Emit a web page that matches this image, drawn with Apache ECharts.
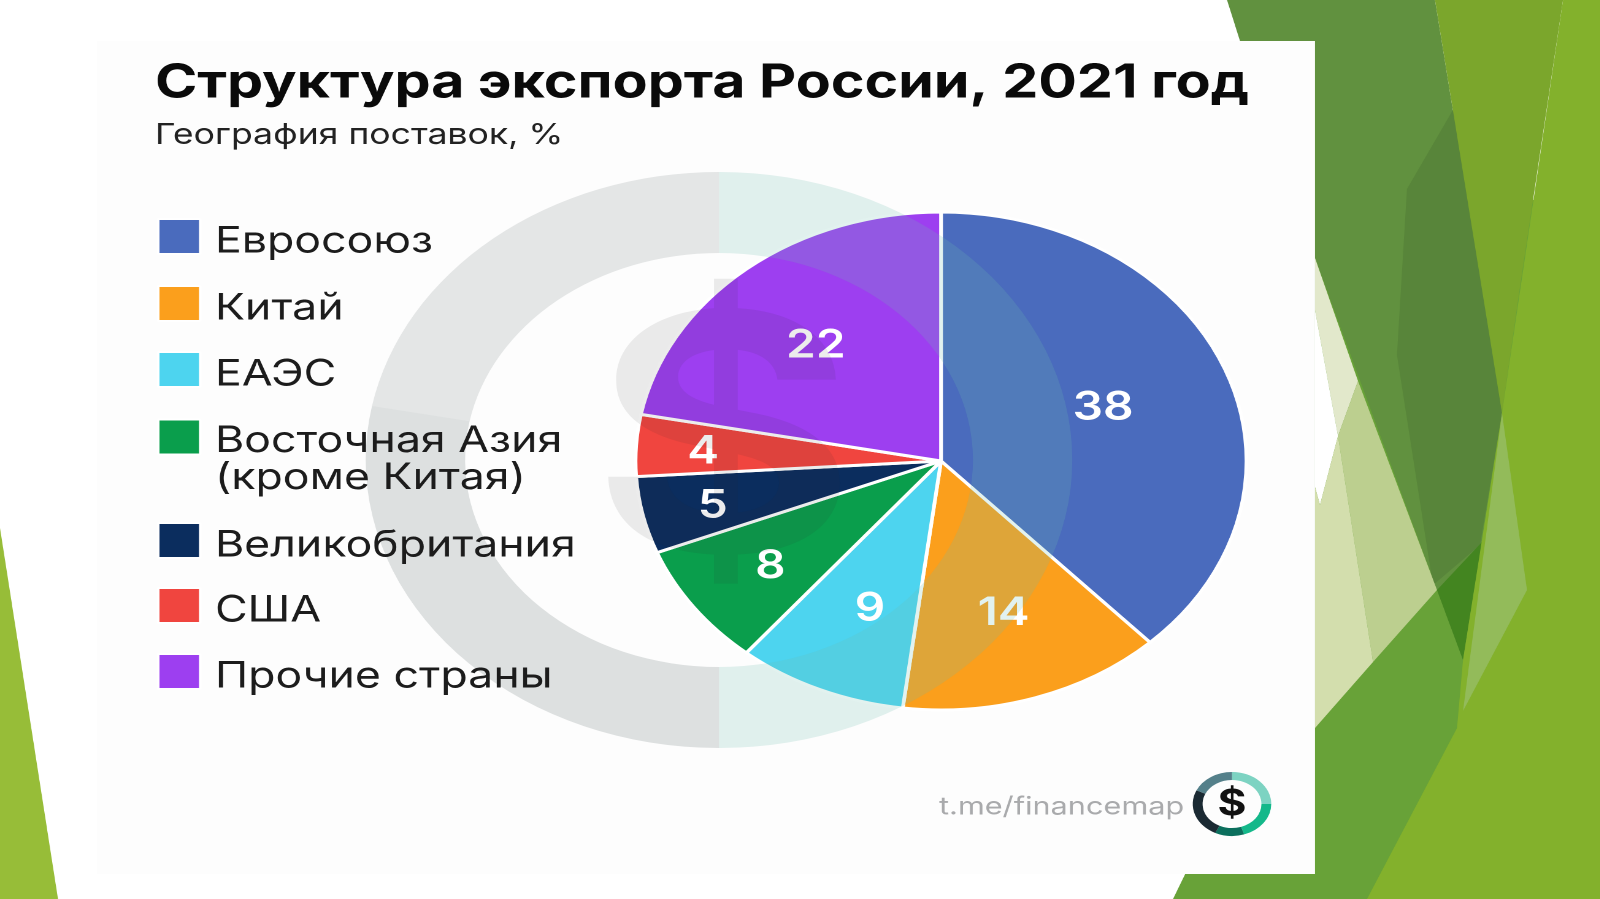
<!DOCTYPE html>
<html>
<head>
<meta charset="utf-8">
<style>
html, body { margin: 0; padding: 0; background: #fff; overflow: hidden; }
#chart { position: absolute; left: 0; top: 0; height: 899px; transform-origin: 0 0; }
</style>
<script src="https://cdn.jsdelivr.net/npm/echarts@6/dist/echarts.min.js"></script>
</head>
<body>
<div id="chart"></div>
<script>
const titleText = 'Структура экспорта России, 2021 год'
const subtitleText = 'География поставок, %'
const linkText = 't.me/financemap'

const categories = ['Евросоюз', 'Китай', 'ЕАЭС', 'Восточная Азия\n(кроме Китая)', 'Великобритания', 'США', 'Прочие страны']
const shares = [38, 14, 9, 8, 5, 4, 22]
const colors = ['#4a6bbd', '#fb9f1c', '#4dd4ef', '#0a9e4c', '#0b2d5e', '#f0453f', '#9d3ff0']
const labelReach = [0.57, 0.64, 0.61, 0.68, 0.76, 0.77, 0.59]
const labelDriftX = [-2.5, 1, 3.4, 0, 1, 0, -6.7]
const labelDriftY = [0, -2, 6, 4, 3, 3, 0]
const legendTops = [213.5, 280.5, 346.5, 395, 517.5, 582.5, 648.5]

const ringNames = ['ring-a', 'ring-b', 'ring-c', 'ring-d']
const ringShares = [25, 25, 28, 22]
const ringColors = ['rgba(110,190,175,0.2)', 'rgba(110,190,175,0.2)', 'rgba(120,135,135,0.24)', 'rgba(130,140,140,0.2)']
const logoNames = ['logo-a', 'logo-b', 'logo-c', 'logo-d', 'logo-e']
const logoShares = [25, 20, 12, 25, 18]
const logoColors = ['#7dd3c2', '#14b88a', '#0b6f5d', '#1b2a33', '#54808a']

// the picture is stretched sideways, a pie can only be round, so the whole chart gets stretched
const stretch = 303 / 247
const dom = document.getElementById('chart')
const width = 1600 / stretch
dom.style.width = width + 'px'
dom.style.transform = `scaleX(${stretch})`
const sx = x => x / stretch

const poly = (points, fill) => ({
    type: 'polygon',
    z: 0,
    silent: true,
    shape: { points: points.map(p => [sx(p[0]), p[1]]) },
    style: { fill }
})

const background = [
    poly([[0, 528], [58, 899], [0, 899]], '#97bd38'),
    poly([[1300, 200], [1600, 200], [1600, 899], [1173, 899], [1192, 860], [1300, 860]], '#68a238'),
    poly([[1227, 0], [1435, 0], [1502, 413], [1463, 660], [1437, 590], [1315, 258], [1240, 41]], '#61913f'),
    poly([[1457, 103], [1407, 189], [1397, 355], [1433, 585], [1480, 545], [1502, 413]], '#58853a'),
    poly([[1315, 258], [1358, 381], [1338, 436], [1315, 310]], '#e2e8cb'),
    poly([[1315, 310], [1338, 436], [1320, 505], [1315, 487]], '#ffffff'),
    poly([[1358, 381], [1437, 590], [1373, 662], [1338, 436]], '#bccf8f'),
    poly([[1315, 487], [1320, 505], [1338, 436], [1373, 662], [1315, 728]], '#d3dead'),
    poly([[1437, 590], [1482, 542], [1463, 660]], '#438520'),
    poly([[1435, 0], [1563, 0], [1520, 287], [1502, 413]], '#7ba62c'),
    poly([[1563, 0], [1600, 0], [1600, 899], [1367, 899], [1457, 728], [1463, 660], [1502, 413]], '#83b12c'),
    poly([[1502, 413], [1527, 590], [1463, 711]], '#93bb5a'),
    {
        type: 'rect',
        z: 0,
        silent: true,
        shape: { x: sx(97), y: 41, width: sx(1218), height: 833 },
        style: { fill: '#fdfdfd' }
    }
]

const overlays = [
    {
        type: 'text',
        z: 3,
        silent: true,
        x: sx(724),
        y: 452,
        style: {
            text: '$',
            fill: 'rgba(40,40,40,0.09)',
            font: 'bold 330px Inter',
            align: 'center',
            verticalAlign: 'middle'
        }
    },
    {
        type: 'text',
        z: 5,
        silent: true,
        x: sx(939),
        y: 807,
        style: {
            text: linkText,
            fill: '#a9aaac',
            font: '25px Inter',
            align: 'left',
            verticalAlign: 'middle'
        }
    },
    {
        type: 'text',
        z: 5,
        silent: true,
        x: sx(1232),
        y: 804,
        style: {
            text: '$',
            fill: '#111',
            font: 'bold 36px Inter',
            align: 'center',
            verticalAlign: 'middle'
        }
    }
]

// one legend per item because the two line name throws off even spacing
const legends = categories.map((name, i) => ({
    left: sx(157),
    top: legendTops[i],
    z: 5,
    padding: 0,
    selectedMode: false,
    orient: 'vertical',
    itemWidth: sx(42),
    itemHeight: 35,
    itemGap: 0,
    icon: 'rect',
    data: [name],
    // the text sits a little under the middle of its square, a blank row on the two line name keeps the first line there too
    formatter: n => n.includes('\n')
        ? '{gap| }\n' + n.split('\n').map(line => `{line|${line}}`).join('\n')
        : `{first|${n}}`,
    textStyle: {
        color: '#1c1c1c',
        fontFamily: 'Inter',
        fontSize: 36.4,
        rich: {
            first: { fontFamily: 'Inter', fontSize: 36.4, color: '#1c1c1c', lineHeight: 37, padding: [10, 0, 0, 7] },
            line: { fontFamily: 'Inter', fontSize: 36.4, color: '#1c1c1c', lineHeight: 37, padding: [0, 0, 0, 7] },
            gap: { fontSize: 10, lineHeight: 45 }
        }
    }
}))

// how far along the radius each number sits, inside labels start at half of it
const midAngle = i => {
    const before = shares.slice(0, i).reduce((a, b) => a + b, 0)
    return (before + shares[i] / 2) / 100 * Math.PI * 2
}

const chart = echarts.init(dom, null, { width, height: 899, devicePixelRatio: 2 })
chart.setOption({
    animation: false,
    backgroundColor: '#fff',
    title: {
        left: sx(155),
        top: 60,
        z: 6,
        padding: 0,
        itemGap: 14,
        text: titleText,
        subtext: subtitleText,
        textStyle: { color: '#0a0a0a', fontFamily: 'Inter', fontWeight: 700, fontSize: 46.7 },
        subtextStyle: { color: '#222', fontFamily: 'Inter', fontSize: 29 }
    },
    legend: legends,
    series: [
        {
            type: 'pie',
            z: 2,
            silent: true,
            center: [sx(941), 461],
            radius: [0, 249],
            startAngle: 90,
            clockwise: true,
            color: colors,
            itemStyle: { borderColor: '#fff', borderWidth: 3 },
            label: {
                show: true,
                position: 'inside',
                formatter: '{c}',
                color: '#fff',
                fontFamily: 'Inter',
                fontWeight: 600,
                fontSize: 39
            },
            labelLine: { show: false },
            labelLayout: params => {
                const i = params.dataIndex
                const angle = midAngle(i)
                const extra = (labelReach[i] - 0.5) * 247
                return {
                    dx: extra * Math.sin(angle) + labelDriftX[i],
                    dy: -extra * Math.cos(angle) + labelDriftY[i]
                }
            },
            data: categories.map((name, i) => ({ name, value: shares[i] }))
        },
        {
            type: 'pie',
            z: 3,
            silent: true,
            center: [sx(719), 460],
            radius: [207, 288],
            startAngle: 90,
            color: ringColors,
            label: { show: false },
            labelLine: { show: false },
            data: ringNames.map((name, i) => ({ name, value: ringShares[i] }))
        },
        {
            type: 'pie',
            z: 4,
            silent: true,
            center: [sx(1232), 804],
            radius: [24, 32],
            startAngle: 90,
            color: logoColors,
            label: { show: false },
            labelLine: { show: false },
            data: logoNames.map((name, i) => ({ name, value: logoShares[i] }))
        }
    ],
    graphic: background.concat(overlays)
})
</script>
</body>
</html>
